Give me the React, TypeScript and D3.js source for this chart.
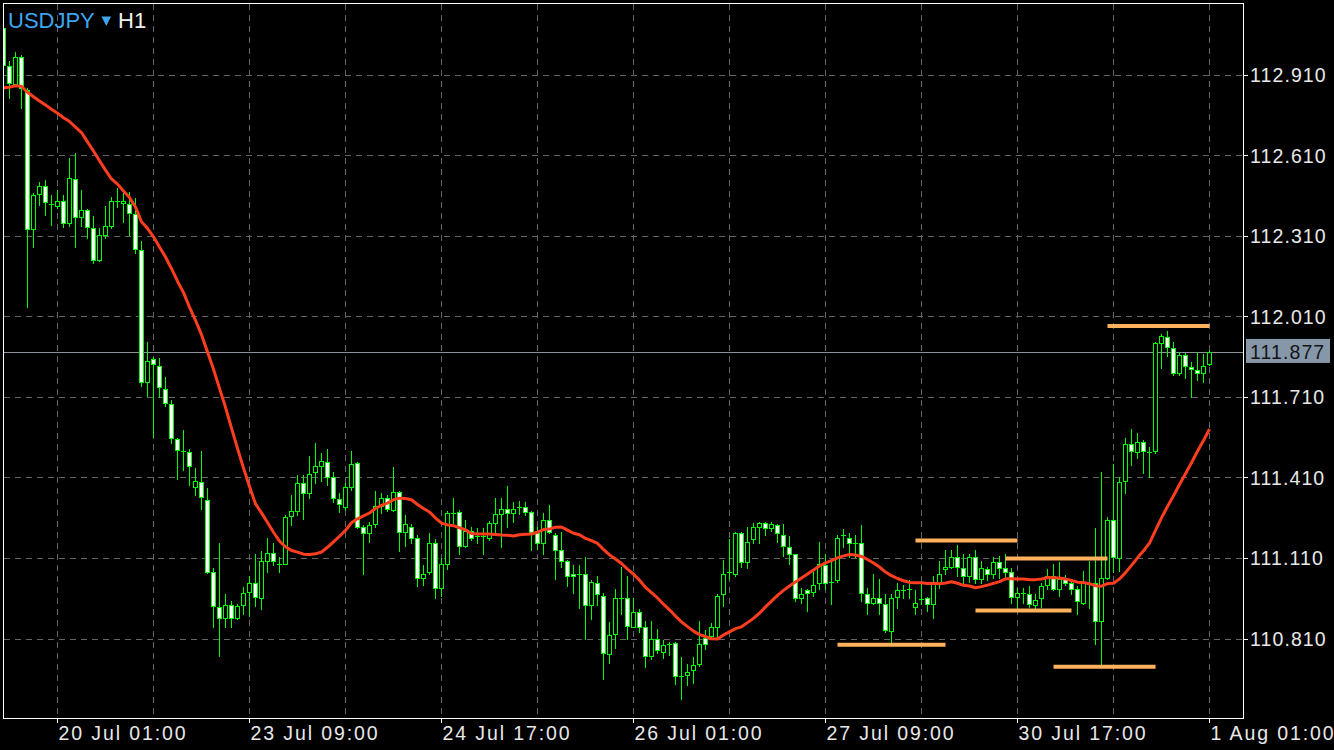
import React from 'react';
import * as d3 from 'd3';

const symbol = 'USDJPY';
const timeframe = 'H1';
const startTime = Date.UTC(2018, 6, 19, 16); // first visible hourly bar
const months = ['Jan', 'Feb', 'Mar', 'Apr', 'May', 'Jun', 'Jul', 'Aug', 'Sep', 'Oct', 'Nov', 'Dec'];

const opens = [
  113.082, 112.940, 112.876, 112.977, 112.854, 112.335, 112.466, 112.496, 112.433, 112.422,
  112.440, 112.358, 112.522, 112.380, 112.406, 112.339, 112.220, 112.313, 112.347, 112.444,
  112.433, 112.429, 112.391, 112.257, 111.765, 111.850, 111.824, 111.739, 111.682, 111.552,
  111.511, 111.503, 111.373, 111.392, 111.324, 111.056, 110.929, 110.888, 110.936, 110.888,
  110.936, 110.985, 111.018, 110.962, 111.097, 111.130, 111.093, 111.089, 111.265, 111.283,
  111.388, 111.351, 111.429, 111.451, 111.466, 111.410, 111.328, 111.298, 111.373, 111.462,
  111.224, 111.201, 111.235, 111.302, 111.332, 111.287, 111.354, 111.205, 111.227, 111.186,
  111.037, 111.056, 111.167, 110.999, 111.089, 111.280, 111.280, 111.156, 111.212, 111.186,
  111.190, 111.186, 111.239, 111.272, 111.291, 111.276, 111.294, 111.298, 111.280, 111.201,
  111.164, 111.250, 111.197, 111.138, 111.097, 111.052, 111.052, 111.052, 110.936, 111.018,
  110.970, 110.753, 110.828, 110.962, 110.962, 110.854, 110.910, 110.851, 110.746, 110.809,
  110.761, 110.791, 110.794, 110.668, 110.675, 110.694, 110.716, 110.813, 110.821, 110.854,
  110.974, 111.052, 111.052, 111.201, 111.093, 111.179, 111.224, 111.239, 111.220, 111.231,
  111.197, 111.149, 111.123, 110.962, 110.989, 110.985, 111.015, 111.085, 111.018, 111.026,
  111.190, 111.186, 111.167, 111.164, 110.974, 110.944, 110.962, 110.940, 110.839, 110.966,
  110.992, 110.992, 110.929, 110.959, 110.959, 110.940, 111.015, 111.067, 111.078, 111.112,
  111.074, 111.041, 111.112, 111.030, 111.067, 111.052, 111.093, 111.074, 111.056, 110.966,
  110.981, 110.977, 110.936, 110.959, 111.011, 111.044, 110.996, 111.037, 111.015, 110.996,
  110.944, 111.018, 111.018, 110.877, 111.037, 111.250, 111.108, 111.395, 111.533, 111.503,
  111.541, 111.503, 111.507, 111.910, 111.933, 111.892, 111.798, 111.866, 111.821, 111.809,
  111.798, 111.832,
];

const highs = [
  113.086, 112.959, 112.992, 112.981, 112.858, 112.470, 112.511, 112.518, 112.462, 112.481,
  112.462, 112.600, 112.619, 112.481, 112.410, 112.384, 112.339, 112.422, 112.455, 112.489,
  112.470, 112.474, 112.451, 112.291, 111.914, 111.858, 111.854, 111.783, 111.697, 111.556,
  111.586, 111.515, 111.444, 111.507, 111.369, 111.074, 111.167, 110.974, 110.951, 110.940,
  111.003, 111.041, 111.123, 111.134, 111.183, 111.167, 111.115, 111.268, 111.343, 111.418,
  111.418, 111.489, 111.537, 111.500, 111.515, 111.429, 111.351, 111.388, 111.507, 111.466,
  111.231, 111.242, 111.358, 111.351, 111.343, 111.448, 111.358, 111.268, 111.235, 111.197,
  111.085, 111.201, 111.179, 111.108, 111.283, 111.332, 111.287, 111.250, 111.227, 111.220,
  111.220, 111.246, 111.332, 111.332, 111.377, 111.317, 111.321, 111.317, 111.283, 111.224,
  111.276, 111.306, 111.201, 111.205, 111.104, 111.082, 111.085, 111.112, 111.026, 111.044,
  110.981, 110.873, 110.996, 111.078, 111.041, 110.962, 110.918, 110.877, 110.877, 110.847,
  110.806, 110.798, 110.798, 110.742, 110.716, 110.742, 110.877, 110.843, 110.866, 110.974,
  111.104, 111.179, 111.205, 111.205, 111.224, 111.239, 111.242, 111.242, 111.242, 111.235,
  111.235, 111.190, 111.126, 110.999, 110.996, 111.056, 111.171, 111.126, 111.100, 111.197,
  111.216, 111.201, 111.197, 111.231, 110.999, 111.052, 111.033, 110.977, 110.977, 111.015,
  111.011, 111.026, 110.992, 111.015, 110.966, 111.044, 111.097, 111.141, 111.141, 111.160,
  111.126, 111.126, 111.141, 111.097, 111.078, 111.115, 111.119, 111.126, 111.074, 110.999,
  110.999, 111.007, 110.977, 111.018, 111.067, 111.089, 111.093, 111.048, 111.026, 111.007,
  111.063, 111.097, 111.220, 111.429, 111.261, 111.459, 111.410, 111.556, 111.589, 111.574,
  111.548, 111.522, 111.914, 111.944, 111.955, 111.914, 111.877, 111.873, 111.839, 111.877,
  111.869, 111.884,
];

const lows = [
  112.903, 112.824, 112.872, 112.787, 112.045, 112.269, 112.425, 112.387, 112.350, 112.414,
  112.343, 112.347, 112.269, 112.347, 112.302, 112.209, 112.216, 112.302, 112.339, 112.418,
  112.362, 112.313, 112.246, 111.750, 111.712, 111.559, 111.709, 111.675, 111.537, 111.403,
  111.436, 111.380, 111.343, 111.294, 111.054, 110.854, 110.746, 110.854, 110.854, 110.881,
  110.903, 110.895, 110.932, 110.918, 111.059, 111.082, 111.059, 111.086, 111.231, 111.268,
  111.254, 111.332, 111.388, 111.395, 111.380, 111.317, 111.280, 111.287, 111.362, 111.222,
  111.052, 111.171, 111.227, 111.276, 111.283, 111.283, 111.134, 111.156, 111.164, 111.007,
  111.011, 111.052, 110.959, 110.970, 111.067, 111.239, 111.126, 111.149, 111.175, 111.164,
  111.126, 111.175, 111.201, 111.149, 111.227, 111.242, 111.272, 111.268, 111.138, 111.145,
  111.126, 111.201, 111.030, 111.078, 111.007, 110.981, 110.925, 110.809, 110.881, 110.936,
  110.660, 110.720, 110.776, 110.903, 110.809, 110.851, 110.836, 110.705, 110.735, 110.757,
  110.739, 110.750, 110.642, 110.586, 110.638, 110.645, 110.709, 110.772, 110.813, 110.817,
  110.932, 111.033, 111.044, 111.078, 111.074, 111.164, 111.164, 111.194, 111.209, 111.171,
  111.119, 111.089, 110.951, 110.944, 110.914, 110.970, 110.996, 110.996, 110.940, 111.022,
  111.149, 111.115, 111.115, 110.951, 110.903, 110.940, 110.903, 110.836, 110.794, 110.925,
  110.959, 110.962, 110.903, 110.940, 110.914, 110.888, 110.999, 111.052, 111.071, 111.044,
  111.018, 111.022, 111.015, 111.015, 111.026, 111.037, 111.037, 111.037, 110.944, 110.925,
  110.944, 110.929, 110.925, 110.929, 110.996, 110.989, 110.970, 111.011, 110.974, 110.903,
  110.940, 110.922, 110.791, 110.716, 111.033, 111.056, 111.063, 111.351, 111.455, 111.481,
  111.425, 111.410, 111.500, 111.817, 111.862, 111.791, 111.791, 111.780, 111.709, 111.772,
  111.765, 111.828,
];

const closes = [
  112.947, 112.880, 112.977, 112.861, 112.335, 112.462, 112.496, 112.437, 112.429, 112.440,
  112.358, 112.526, 112.380, 112.406, 112.343, 112.220, 112.313, 112.347, 112.440, 112.440,
  112.440, 112.395, 112.261, 111.765, 111.843, 111.832, 111.746, 111.686, 111.556, 111.511,
  111.507, 111.451, 111.395, 111.336, 111.056, 110.932, 110.888, 110.936, 110.888, 110.932,
  110.981, 111.018, 110.966, 111.097, 111.130, 111.100, 111.089, 111.261, 111.283, 111.388,
  111.351, 111.422, 111.451, 111.470, 111.410, 111.332, 111.309, 111.373, 111.459, 111.224,
  111.201, 111.231, 111.302, 111.332, 111.294, 111.354, 111.205, 111.235, 111.186, 111.037,
  111.052, 111.167, 110.999, 111.089, 111.276, 111.278, 111.156, 111.212, 111.186, 111.190,
  111.192, 111.239, 111.272, 111.291, 111.276, 111.291, 111.298, 111.280, 111.205, 111.164,
  111.250, 111.205, 111.141, 111.100, 111.044, 111.044, 111.050, 110.936, 111.022, 110.977,
  110.757, 110.824, 110.962, 110.960, 110.858, 110.910, 110.854, 110.746, 110.809, 110.768,
  110.787, 110.790, 110.671, 110.671, 110.686, 110.712, 110.791, 110.791, 110.854, 110.970,
  111.052, 111.056, 111.201, 111.093, 111.171, 111.224, 111.239, 111.220, 111.235, 111.201,
  111.153, 111.123, 110.962, 110.974, 110.981, 111.011, 111.089, 111.018, 111.020, 111.186,
  111.194, 111.164, 111.164, 110.981, 110.944, 110.962, 110.944, 110.843, 110.962, 110.992,
  110.991, 110.996, 110.944, 110.958, 110.940, 111.015, 111.052, 111.078, 111.112, 111.078,
  111.041, 111.112, 111.030, 111.071, 111.052, 111.093, 111.074, 111.056, 110.966, 110.981,
  110.980, 110.940, 110.955, 111.007, 111.044, 110.996, 111.033, 111.018, 110.996, 110.951,
  111.022, 111.016, 110.877, 111.037, 111.250, 111.112, 111.392, 111.533, 111.507, 111.541,
  111.507, 111.505, 111.910, 111.936, 111.895, 111.798, 111.866, 111.824, 111.813, 111.798,
  111.824, 111.877,
];

// moving average values for the first bars (their earlier history is off-screen)
const maWarmup = [
  112.860, 112.863, 112.868, 112.866, 112.844, 112.827, 112.811, 112.796, 112.781, 112.766,
  112.749, 112.735, 112.714, 112.694, 112.659, 112.625, 112.589, 112.554, 112.521,
];
const maPeriod = 20;

const priceTicks = [112.910, 112.610, 112.310, 112.010, 111.710, 111.410, 111.110, 110.810];
const timeTicks = ['20 Jul 01:00', '23 Jul 09:00', '24 Jul 17:00', '26 Jul 01:00', '27 Jul 09:00', '30 Jul 17:00', '1 Aug 01:00'];
const lastPrice = 111.877;

const levelPrices = [110.787, 111.175, 110.914, 111.108, 110.705, 111.974];
const levelStarts = ['27 Jul 11:00', '30 Jul 00:00', '30 Jul 10:00', '30 Jul 15:00', '30 Jul 23:00', '31 Jul 08:00'];
const levelEnds = ['30 Jul 05:00', '30 Jul 17:00', '31 Jul 02:00', '31 Jul 08:00', '31 Jul 16:00', '1 Aug 01:00'];

const W = 1334;
const H = 750;
const PL = 4, PR = 1243, PT = 4, PB = 718;

function fmtTime(t: number) {
  const d = new Date(t);
  return `${d.getUTCDate()} ${months[d.getUTCMonth()]} ${String(d.getUTCHours()).padStart(2, '0')}:00`;
}

function buildTimes(n: number) {
  const out: string[] = [];
  let t = startTime;
  while (out.length < n) {
    const wd = new Date(t).getUTCDay();
    if (wd !== 0 && wd !== 6) out.push(fmtTime(t));
    t += 3600000;
  }
  return out;
}

export default function App() {
  const N = closes.length;
  const times = buildTimes(N);
  const idxOf = (s: string) => times.indexOf(s);

  const x = d3.scaleLinear().domain([0, N - 1]).range([3.5, 3.5 + 6 * (N - 1)]);
  const y = d3.scaleLinear().domain([110.810, 112.910]).range([638.5, 74.5]);

  const ma = closes.map((_, i) =>
    i < maPeriod - 1 ? maWarmup[i] : d3.mean(closes.slice(i - maPeriod + 1, i + 1)) as number
  );
  const maLine = d3.line<number>().x((_, i) => x(i)).y((v) => y(v));

  const tickIdx = timeTicks.map(idxOf);
  const first = tickIdx[0];
  const gridIdx = d3.range(N).filter((i) => (i - first) % 16 === 0 && i >= 0);

  const green = '#00ff00';
  const gridColor = '#656565';
  const font = '"Liberation Sans", Arial, sans-serif';

  return (
    <svg width={W} height={H} style={{ position: 'absolute', left: 0, top: 0, background: '#000' }}>
      <defs>
        <clipPath id="plot">
          <rect x={PL} y={PT} width={PR - PL} height={PB - PT} />
        </clipPath>
      </defs>
      <rect x={0} y={0} width={W} height={H} fill="#000" />

      {/* grid */}
      <g stroke={gridColor} strokeWidth={1} strokeDasharray="6,5">
        {priceTicks.map((p) => (
          <line key={p} x1={PL} x2={PR} y1={Math.round(y(p)) + 0.5} y2={Math.round(y(p)) + 0.5} />
        ))}
        {gridIdx.map((i) => (
          <line key={i} x1={x(i)} x2={x(i)} y1={PT} y2={PB} />
        ))}
      </g>

      <g clipPath="url(#plot)">
        {/* last price line */}
        <line x1={PL} x2={PR} y1={Math.round(y(lastPrice)) + 0.5} y2={Math.round(y(lastPrice)) + 0.5} stroke="#8d939c" strokeWidth={1} />

        {/* candles */}
        {closes.map((c, i) => {
          const o = opens[i];
          const cx = x(i);
          const top = y(Math.max(o, c));
          const bot = y(Math.min(o, c));
          const bull = c >= o;
          return (
            <g key={i}>
              <line x1={cx} x2={cx} y1={Math.round(y(highs[i]))} y2={Math.round(y(lows[i])) + 1} stroke={green} strokeWidth={1} />
              {bot - top < 1.5 ? (
                <line x1={cx - 2.5} x2={cx + 2.5} y1={Math.round(y(c)) + 0.5} y2={Math.round(y(c)) + 0.5} stroke={green} strokeWidth={1} />
              ) : (
                <rect
                  x={cx - 2}
                  y={Math.round(top) + 0.5}
                  width={4}
                  height={Math.max(1, Math.round(bot) - Math.round(top))}
                  fill={bull ? '#000' : '#fff'}
                  stroke={green}
                  strokeWidth={1}
                />
              )}
            </g>
          );
        })}

        {/* moving average */}
        <path d={maLine(ma) || ''} fill="none" stroke="#ff3d1f" strokeWidth={3} strokeLinejoin="round" />

        {/* levels */}
        {levelPrices.map((p, k) => (
          <line
            key={k}
            x1={x(idxOf(levelStarts[k]))}
            x2={x(idxOf(levelEnds[k]))}
            y1={y(p)}
            y2={y(p)}
            stroke="#ffb25e"
            strokeWidth={4}
          />
        ))}
      </g>

      {/* frame */}
      <rect x={3.5} y={3.5} width={PR - 3.5 + 0.5} height={PB - 3.5 + 0.5} fill="none" stroke="#ffffff" strokeWidth={1} />

      {/* right axis */}
      {priceTicks.map((p) => (
        <g key={p}>
          <line x1={PR} x2={PR + 5} y1={Math.round(y(p)) + 0.5} y2={Math.round(y(p)) + 0.5} stroke="#fff" />
          <text x={1250} y={y(p) + 7.5} fill="#e8e8e8" fontSize={19.5} fontFamily={font} letterSpacing={1.1}>
            {p.toFixed(3)}
          </text>
        </g>
      ))}
      <rect x={1246} y={y(lastPrice) - 13} width={84} height={24} fill="#8797aa" />
      <text x={1250} y={y(lastPrice) + 7.5} fill="#141414" fontSize={19.5} fontFamily={font} letterSpacing={1.1}>
        {lastPrice.toFixed(3)}
      </text>

      {/* bottom axis */}
      {timeTicks.map((t, k) => (
        <g key={t}>
          <line x1={x(tickIdx[k])} x2={x(tickIdx[k])} y1={PB} y2={PB + 5} stroke="#fff" />
          <text x={x(tickIdx[k]) + 1} y={740} fill="#e8e8e8" fontSize={19.5} fontFamily={font} letterSpacing={1.9}>
            {t}
          </text>
        </g>
      ))}

      {/* title */}
      <text x={8} y={28.3} fill="#3ea6ee" fontSize={22} fontFamily={font}>
        {symbol}
      </text>
      <path d="M101.5,16.5 L111,16.5 L106.25,26 Z" fill="#3ea6ee" />
      <text x={118} y={28.3} fill="#f0f0f0" fontSize={22} fontFamily={font}>
        {timeframe}
      </text>
    </svg>
  );
}
